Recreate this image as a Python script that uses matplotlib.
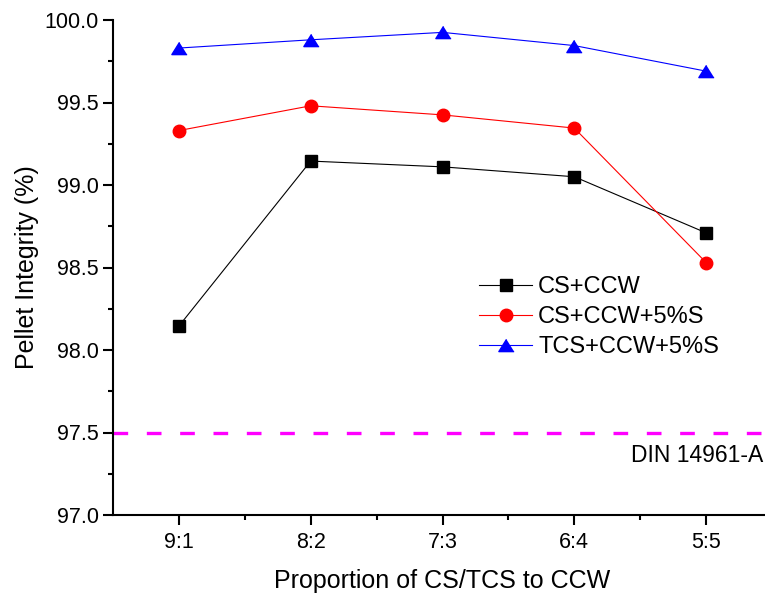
import matplotlib
matplotlib.use("Agg")
import matplotlib.pyplot as plt
from matplotlib.ticker import MultipleLocator, FixedLocator, FormatStrFormatter

plt.rcParams['font.family'] = ['Liberation Sans', 'DejaVu Sans']

categories = ["9:1", "8:2", "7:3", "6:4", "5:5"]
cs_ccw = [98.145, 99.145, 99.11, 99.05, 98.71]
cs_ccw_s = [99.33, 99.48, 99.425, 99.345, 98.53]
tcs_ccw_s = [99.83, 99.88, 99.925, 99.845, 99.69]
din_limit = 97.5
din_label = "DIN 14961-A"

fig = plt.figure(figsize=(7.65, 5.99), dpi=100)
W, H = 765, 599
left, right, top, bottom = 113, 772, 20, 515
ax = fig.add_axes([left / W, 1 - bottom / H, (right - left) / W, (bottom - top) / H])

tri = [(0, 1), (-1.25, -1), (1.25, -1)]
x = list(range(1, len(categories) + 1))
ax.plot(x, cs_ccw, color='black', lw=0.8, marker='s', ms=8, label='CS+CCW')
ax.plot(x, cs_ccw_s, color='red', lw=0.8, marker='o', ms=9, label='CS+CCW+5%S')
ax.plot(x, tcs_ccw_s, color='blue', lw=0.8, marker=tri, ms=11, label='TCS+CCW+5%S')
ax.axhline(din_limit, color='#ff00ff', lw=2.4, ls=(0, (4.4, 5.6)))
ax.text(5.43, 97.36, din_label, ha='right', va='center', fontsize=16.5)

ax.set_xlim(0.5, 5.5)
ax.set_ylim(97.0, 100.0)
ax.set_xticks(x)
ax.set_xticklabels(categories)
ax.xaxis.set_minor_locator(FixedLocator([1.5, 2.5, 3.5, 4.5]))
ax.yaxis.set_major_locator(MultipleLocator(0.5))
ax.yaxis.set_minor_locator(MultipleLocator(0.25))
ax.yaxis.set_major_formatter(FormatStrFormatter('%.1f'))

for s in ['top', 'right']:
    ax.spines[s].set_visible(False)
for s in ['left', 'bottom']:
    ax.spines[s].set_linewidth(1.5)
ax.tick_params(which='major', direction='out', length=7, width=1.5, labelsize=15.5, pad=3)
ax.tick_params(axis='x', which='major', pad=5)
ax.tick_params(which='minor', direction='out', length=3.5, width=1.5)

ax.set_xlabel('Proportion of CS/TCS to CCW', fontsize=18, labelpad=12)
ax.set_ylabel('Pellet Integrity (%)', fontsize=18, labelpad=4)

ax.legend(loc='center left', bbox_to_anchor=(479 / W, 1 - 317 / H),
          bbox_transform=fig.transFigure, frameon=False,
          fontsize=17, handlelength=2.25, handletextpad=0.25, labelspacing=0.33,
          borderpad=0, borderaxespad=0)

fig.savefig('out.png', dpi=100)
